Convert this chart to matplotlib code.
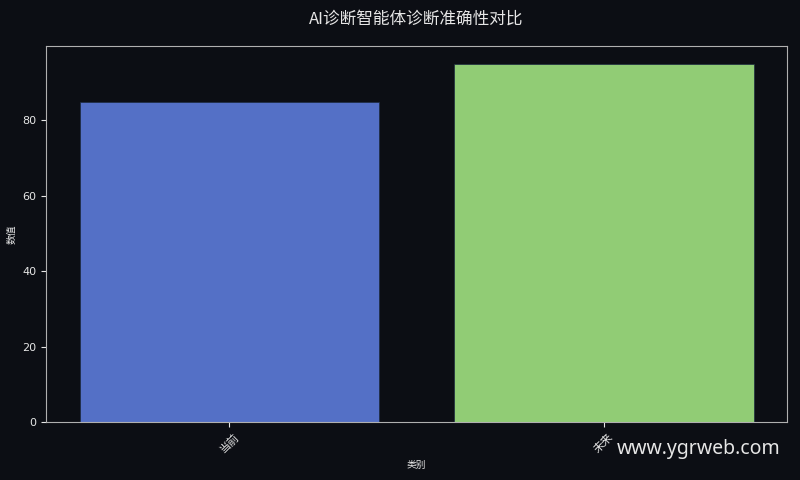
import matplotlib
matplotlib.use("Agg")
import matplotlib.pyplot as plt

categories = ["当前", "未来"]
values = [85, 95]
colors = ["#5470c6", "#91cc75"]
title = "AI诊断智能体诊断准确性对比"
xlabel = "类别"
ylabel = "数值"
watermark = "www.ygrweb.com"

plt.rcParams['font.family'] = ['DejaVu Sans', 'Noto Sans CJK SC']
cjk = ['Noto Sans CJK SC', 'DejaVu Sans']
bg = "#0c0e14"
fg = "#e6e6e6"

fig = plt.figure(figsize=(8, 4.8), dpi=100, facecolor=bg)
ax = fig.add_axes([0.0575, 0.121, 0.9265, 0.783])
ax.set_facecolor(bg)
x = list(range(len(categories)))
ax.bar(x, values, width=0.8, color=colors, edgecolor="#1c2a40", linewidth=0.5)
ax.set_xticks(x)
ax.set_xticklabels(categories, rotation=45, color=fg, fontsize=8, family=cjk)
ax.tick_params(axis='y', colors=fg, labelsize=8)
ax.tick_params(axis='x', colors=fg)
for s in ax.spines.values():
    s.set_color("#b0b0b0")
ax.set_xlabel(xlabel, color=fg, fontsize=7, family=cjk)
ax.set_ylabel(ylabel, color=fg, fontsize=7, family=cjk)
ax.set_title(title, color=fg, fontsize=12, pad=16, family=cjk)
fig.text(0.976, 0.065, watermark, color=fg, fontsize=14, ha='right', va='center',
         family=['Noto Sans', 'DejaVu Sans'])
fig.savefig("out.png", dpi=100, facecolor=bg)
